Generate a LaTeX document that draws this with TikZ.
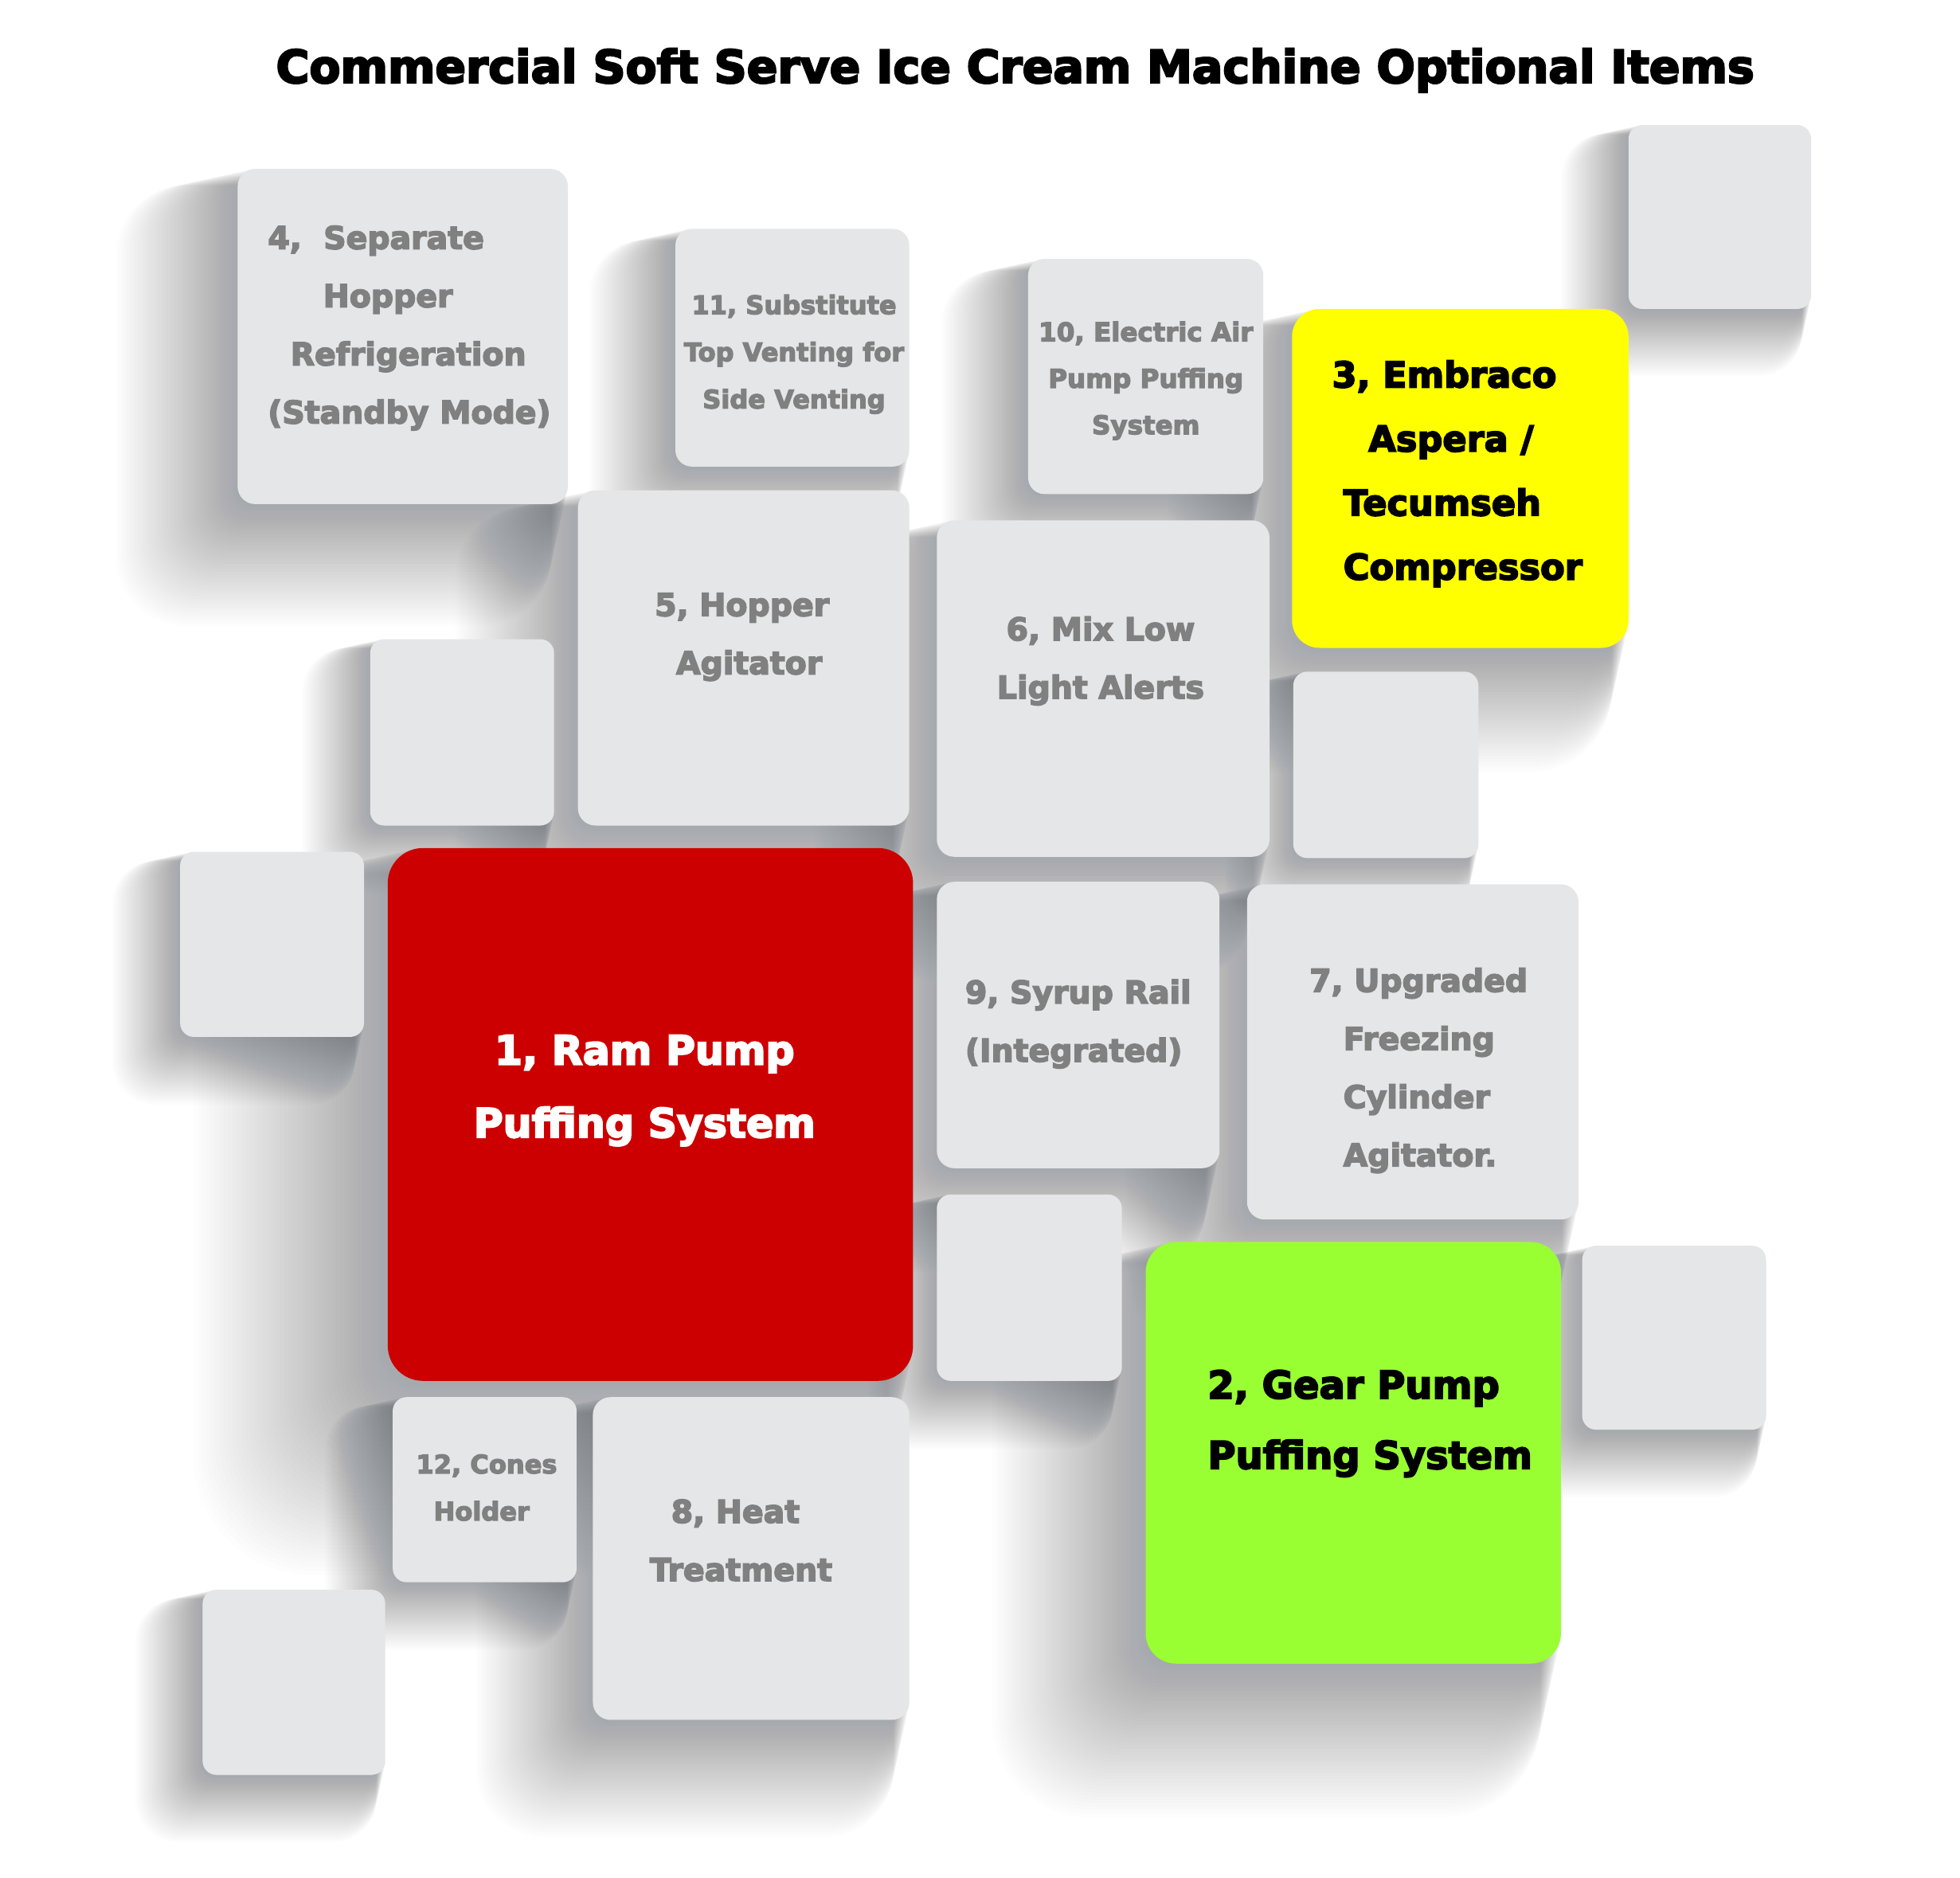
\documentclass[tikz,border=0pt]{standalone}
\usepackage{fontspec}
\newfontfamily\dvs{DejaVu Sans}[FakeBold=4]
\definecolor{cardgray}{RGB}{229,230,231}
\definecolor{txtgray}{RGB}{128,128,128}
\definecolor{cardred}{RGB}{204,0,0}
\definecolor{cardyellow}{RGB}{255,255,0}
\definecolor{cardgreen}{RGB}{153,255,51}
\definecolor{shadowcol}{RGB}{40,48,56}
\tikzset{
  card/.style={rectangle,inner sep=0pt,outer sep=0pt,anchor=north west},
  gtxt/.style={text=txtgray,align=center,inner sep=0pt,font=\dvs\bfseries\fontsize{25}{46.3}\selectfont},
  stxt/.style={text=txtgray,align=center,inner sep=0pt,font=\dvs\bfseries\fontsize{20.3}{37.5}\selectfont},
  ltxt/.style={align=left,anchor=west},
}
\begin{document}
\begin{tikzpicture}[x=1pt,y=-1pt]
\fill[white] (0,0) rectangle (1560,1494.7);
\useasboundingbox (0,0) rectangle (1560,1494.7);
\def\cards{b4/cardgray/190/135/264/268/14,
 b11/cardgray/540/183/187/190/13,
 b10/cardgray/822/207/188/188/13,
 b3/cardyellow/1033/247/269/271/22,
 bA/cardgray/1302/100/146/147/11,
 b5/cardgray/462/392/265/268/14,
 b6/cardgray/749/416/266/269/14,
 bB/cardgray/296/511/147/149/11,
 bC/cardgray/1034/537/148/149/11,
 bD/cardgray/144/681/147/148/11,
 b1/cardred/310/678/420/426/28,
 b9/cardgray/749/705/226/229/14,
 b7/cardgray/997/707/265/268/14,
 bE/cardgray/749/955/148/149/11,
 b2/cardgreen/916/993/332/337/24,
 bF/cardgray/1265/996/147/147/11,
 b12/cardgray/314/1117/147/148/11,
 b8/cardgray/474/1117/253/258/14,
 bG/cardgray/162/1271/146/148/11}
\begin{scope}[scale=0.9955]
% soft cast shadows (down-left)
\foreach \n/\c/\x/\y/\w/\h/\r in \cards {
  \foreach \k in {1,...,45} {
    \pgfmathsetmacro\s{\k/45*0.21*\w}
    \pgfmathsetmacro\e{\k/45*0.16*\w}
    \pgfmathsetmacro\rr{\r+\e}
    \fill[shadowcol,opacity=0.0068,rounded corners=\rr pt]
      (\x-\s-\e,\y+\s-\e) rectangle (\x+\w-\s+\e,\y+\h+\s+\e);
  }
}
\foreach \n/\c/\x/\y/\w/\h/\r in \cards {
  \node[card,fill=\c,rounded corners=\r pt,minimum width=0.9955*\w pt,minimum height=0.9955*\h pt] (\n) at (\x,\y) {};
}
\end{scope}
% title
\node[inner sep=0pt,font=\dvs\bfseries\fontsize{36.15}{40}\selectfont] (title) at (808,56) {Commercial Soft Serve Ice Cream Machine Optional Items};
% texts
\node[gtxt,ltxt] (t4) at (213,261) {4,~ Separate\\\hspace*{44pt}Hopper\\\hspace*{18pt}Refrigeration\\(Standby Mode)};
\node[stxt] (t11) at (632,282) {11, Substitute\\Top Venting for\\Side Venting};
\node[stxt,font=\dvs\bfseries\fontsize{20.6}{37}\selectfont] (t10) at (912,303) {10, Electric Air\\Pump Puffing\\System};
\node[inner sep=0pt,ltxt,text=black,font=\dvs\bfseries\fontsize{28.3}{51}\selectfont] (t3) at (1060,377) {3, Embraco\\\hspace*{29pt}Aspera /\\\hspace*{9pt}Tecumseh\\\hspace*{9pt}Compressor};
\node[gtxt,ltxt] (t5) at (521,507) {5, Hopper\\\hspace*{17pt}Agitator};
\node[gtxt] (t6) at (876,526) {6, Mix Low\\Light Alerts};
\node[inner sep=0pt,align=center,text=white,font=\dvs\bfseries\fontsize{32}{58}\selectfont] (t1) at (513,868) {1, Ram Pump\\Puffing System};
\node[gtxt,ltxt] (t9) at (768,815) {9, Syrup Rail\\(Integrated)};
\node[gtxt,ltxt] (t7) at (1042,852) {7, Upgraded\\\hspace*{27pt}Freezing\\\hspace*{27pt}Cylinder\\\hspace*{27pt}Agitator.};
\node[inner sep=0pt,ltxt,text=black,font=\dvs\bfseries\fontsize{30.4}{56}\selectfont] (t2) at (961,1133) {2, Gear Pump\\Puffing System};
\node[stxt,ltxt] (t12) at (331,1184) {12, Cones\\\hspace*{14pt}Holder};
\node[gtxt,ltxt] (t8) at (517,1226) {\hspace*{17pt}8, Heat\\Treatment};
\end{tikzpicture}
\end{document}
